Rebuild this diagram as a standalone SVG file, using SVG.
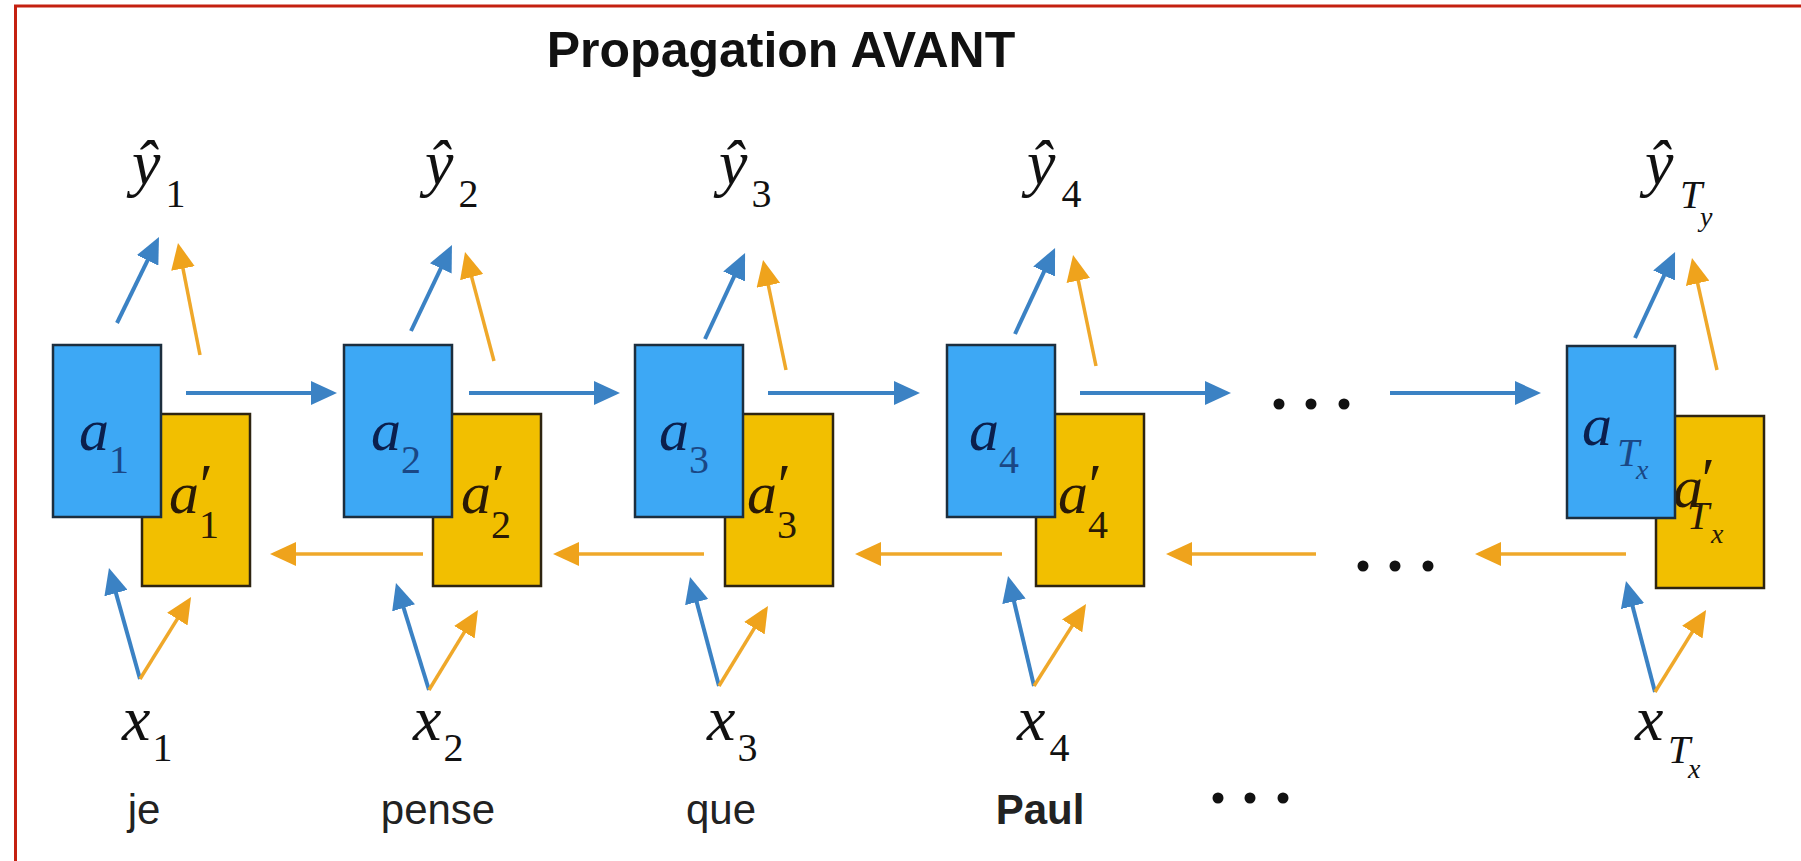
<svg xmlns="http://www.w3.org/2000/svg" width="1801" height="861" viewBox="0 0 1801 861">
<defs>
<style>
.bg{fill:#ffffff}
.frame{fill:none;stroke:#c42010;stroke-width:3}
.ba{fill:#3da8f5;stroke:#1c2e3e;stroke-width:2.5}
.ya{fill:#f2bf00;stroke:#2e2410;stroke-width:2.5}
.m{font-family:"Liberation Serif","Times New Roman",serif;font-style:italic;font-size:64px;fill:#111}
.la{font-family:"Liberation Serif","Times New Roman",serif;font-style:italic;font-size:60px;fill:#0b1f4d}
.lb{font-family:"Liberation Serif","Times New Roman",serif;font-style:italic;font-size:60px;fill:#2a1a05}
.las{fill:#1a4785}
.w{font-family:"Liberation Sans",Arial,sans-serif;font-size:42px;fill:#222;text-anchor:middle}
.title{font-family:"Liberation Sans",Arial,sans-serif;font-size:50px;font-weight:bold;fill:#111;text-anchor:middle}
.s{font-style:normal;font-size:40px}
.si{font-style:italic;font-size:40px}
.ss{font-style:italic;font-size:28px}
.eb{fill:none;stroke:#3b82c4;stroke-width:4;marker-end:url(#hb)}
.eo{fill:none;stroke:#efa82a;stroke-width:3.5;marker-end:url(#ho)}
.dot{fill:#111}
</style>
<marker id="hb" viewBox="0 0 26 24" markerWidth="26" markerHeight="24" refX="14" refY="12" orient="auto" markerUnits="userSpaceOnUse"><path d="M0,0 L26,12 L0,24 Z" fill="#3b82c4"/></marker>
<marker id="ho" viewBox="0 0 26 24" markerWidth="26" markerHeight="24" refX="14" refY="12" orient="auto" markerUnits="userSpaceOnUse"><path d="M0,0 L26,12 L0,24 Z" fill="#efa31c"/></marker>
</defs>
<rect class="bg" x="0" y="0" width="1801" height="861"/>
<path class="frame" d="M15.5,861 V6 H1801"/>
<text class="title" x="781" y="67">Propagation AVANT</text>

<g id="connectors">
<path class="eb" d="M186,393 H325"/>
<path class="eb" d="M469,393 H608"/>
<path class="eb" d="M768,393 H908"/>
<path class="eb" d="M1080,393 H1219"/>
<path class="eb" d="M1390,393 H1529"/>
<path class="eo" d="M423,554 H282"/>
<path class="eo" d="M704,554 H565"/>
<path class="eo" d="M1002,554 H867"/>
<path class="eo" d="M1316,554 H1178"/>
<path class="eo" d="M1626,554 H1487"/>
<path class="eb" d="M117,323 L153.7,247.8"/>
<path class="eo" d="M200,355 L180.3,254.8"/>
<path class="eb" d="M411,331 L446.8,255.8"/>
<path class="eo" d="M494,361 L468.1,263.6"/>
<path class="eb" d="M705,339 L740,263.8"/>
<path class="eo" d="M786,370 L765.5,271.7"/>
<path class="eb" d="M1015,334 L1050,258.8"/>
<path class="eo" d="M1096,366 L1075.5,266.8"/>
<path class="eb" d="M1635,338 L1670,262.8"/>
<path class="eo" d="M1717,370 L1694.6,269.7"/>
<path class="eb" d="M140,679 L112.2,579.6"/>
<path class="eo" d="M140,679 L184.7,607.2"/>
<path class="eb" d="M429,690 L399.5,594.5"/>
<path class="eo" d="M429,690 L471.7,620.2"/>
<path class="eb" d="M719,686 L693.1,588.6"/>
<path class="eo" d="M719,686 L761.7,616.2"/>
<path class="eb" d="M1034,686 L1010.8,587.7"/>
<path class="eo" d="M1034,686 L1079.6,614.1"/>
<path class="eb" d="M1655,692 L1629,592.6"/>
<path class="eo" d="M1655,692 L1699.7,620.2"/>
</g>

<g id="col1">
<g id="ap1"><rect class="ya" x="142" y="414" width="108" height="172"/>
<text class="lb" x="169" y="513">a</text><text class="lb" x="196" y="505">′</text><text class="lb s" x="199" y="538">1</text></g>
<g id="a1"><rect class="ba" x="53" y="345" width="108" height="172"/>
<text class="la" x="79" y="450">a<tspan class="s las" dx="0" dy="23">1</tspan></text></g>
<g id="y1"><text class="m" x="132" y="184">ŷ<tspan class="s" dx="5" dy="23">1</tspan></text></g>
<g id="x1"><text class="m" x="122" y="740">x<tspan class="s" dx="2" dy="21">1</tspan></text></g>
<g id="w1"><text class="w" x="144" y="824">je</text></g>
</g>

<g id="col2">
<g id="ap2"><rect class="ya" x="433" y="414" width="108" height="172"/>
<text class="lb" x="461" y="513">a</text><text class="lb" x="488" y="505">′</text><text class="lb s" x="491" y="538">2</text></g>
<g id="a2"><rect class="ba" x="344" y="345" width="108" height="172"/>
<text class="la" x="371" y="450">a<tspan class="s las" dx="0" dy="23">2</tspan></text></g>
<g id="y2"><text class="m" x="425" y="184">ŷ<tspan class="s" dx="5" dy="23">2</tspan></text></g>
<g id="x2"><text class="m" x="413" y="740">x<tspan class="s" dx="2" dy="21">2</tspan></text></g>
<g id="w2"><text class="w" x="438" y="824">pense</text></g>
</g>

<g id="col3">
<g id="ap3"><rect class="ya" x="725" y="414" width="108" height="172"/>
<text class="lb" x="747" y="513">a</text><text class="lb" x="774" y="505">′</text><text class="lb s" x="777" y="538">3</text></g>
<g id="a3"><rect class="ba" x="635" y="345" width="108" height="172"/>
<text class="la" x="659" y="450">a<tspan class="s las" dx="0" dy="23">3</tspan></text></g>
<g id="y3"><text class="m" x="719" y="184">ŷ<tspan class="s" dx="4" dy="23">3</tspan></text></g>
<g id="x3"><text class="m" x="707" y="740">x<tspan class="s" dx="2" dy="21">3</tspan></text></g>
<g id="w3"><text class="w" x="721" y="824">que</text></g>
</g>

<g id="col4">
<g id="ap4"><rect class="ya" x="1036" y="414" width="108" height="172"/>
<text class="lb" x="1058" y="513">a</text><text class="lb" x="1085" y="505">′</text><text class="lb s" x="1088" y="538">4</text></g>
<g id="a4"><rect class="ba" x="947" y="345" width="108" height="172"/>
<text class="la" x="969" y="450">a<tspan class="s las" dx="0" dy="23">4</tspan></text></g>
<g id="y4"><text class="m" x="1027" y="184">ŷ<tspan class="s" dx="6" dy="23">4</tspan></text></g>
<g id="x4"><text class="m" x="1017" y="740">x<tspan class="s" dx="4" dy="21">4</tspan></text></g>
<g id="w4"><text class="w" x="1040" y="824" font-weight="bold">Paul</text></g>
</g>

<g id="colT">
<g id="apT"><rect class="ya" x="1656" y="416" width="108" height="172"/>
<text class="lb" x="1673" y="507">a</text><text class="lb" x="1698" y="499">′</text><text class="lb si" x="1687" y="529">T</text><text class="lb ss" x="1711" y="543">x</text></g>
<g id="aT"><rect class="ba" x="1567" y="346" width="108" height="172"/>
<text class="la" x="1582" y="445">a</text><text class="la si las" x="1617" y="466">T</text><text class="la ss las" x="1636" y="479">x</text></g>
<g id="yT"><text class="m" x="1645" y="184">ŷ</text><text class="m si" x="1680" y="208">T</text><text class="m ss" x="1700" y="226">y</text></g>
<g id="xT"><text class="m" x="1635" y="740">x</text><text class="m si" x="1668" y="763">T</text><text class="m ss" x="1688" y="778">x</text></g>
</g>

<g id="ellipses">
<circle class="dot" cx="1279" cy="404" r="5.5"/><circle class="dot" cx="1311" cy="404" r="5.5"/><circle class="dot" cx="1344" cy="404" r="5.5"/>
<circle class="dot" cx="1363" cy="566" r="5.5"/><circle class="dot" cx="1395" cy="566" r="5.5"/><circle class="dot" cx="1428" cy="566" r="5.5"/>
<circle class="dot" cx="1218" cy="798" r="5.5"/><circle class="dot" cx="1250" cy="798" r="5.5"/><circle class="dot" cx="1283" cy="798" r="5.5"/>
</g>
</svg>
